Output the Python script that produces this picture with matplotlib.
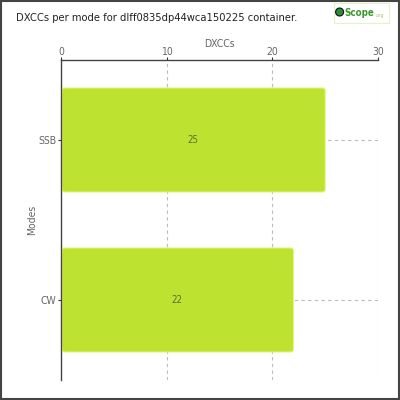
import matplotlib.pyplot as plt
from matplotlib.patches import FancyBboxPatch, Rectangle

modes = ['SSB', 'CW']
dxccs = [25, 22]
xticks = [0, 10, 20, 30]

plt.rcParams['font.family'] = ['DejaVu Sans']
plt.rcParams['font.stretch'] = 'condensed'

fig = plt.figure(figsize=(4, 4), dpi=100)
ax = fig.add_axes([0.1525, 0.05, 0.7925, 0.80])

pos = list(range(len(modes)))
bars = ax.barh(pos, dxccs, height=0.65, color='none')

# rounded bars on top of the barh geometry
x_per_px = 30 / 317
y_per_px = 2 / 320
for b in bars:
    x0, y0 = b.get_x(), b.get_y()
    w, h = b.get_width(), b.get_height()
    p = FancyBboxPatch((x0 + 0.1, y0), w - 0.1, h,
                       boxstyle='round,pad=0,rounding_size=0.25',
                       mutation_aspect=y_per_px / x_per_px,
                       facecolor='#bde22f', edgecolor='#e4f579', linewidth=0.8,
                       zorder=2)
    ax.add_patch(p)
    ax.text(x0 + w / 2, y0 + h / 2, str(int(w)), ha='center', va='center',
            fontsize=7, color='#5f6f3a', zorder=3)

ax.set_xlim(0, 30)
ax.set_ylim(1.5, -0.5)
ax.set_xticks(xticks)
ax.set_yticks(pos)
ax.set_yticklabels(modes)

ax.xaxis.tick_top()
ax.xaxis.set_label_position('top')
ax.set_xlabel('DXCCs', fontsize=7.5, color='#666666', labelpad=0)
ax.set_ylabel('Modes', fontsize=7.5, color='#666666', labelpad=1)
ax.tick_params(axis='both', labelsize=7.5, labelcolor='#666666', length=2.5,
               width=0.8, color='#333333', pad=1)
ax.tick_params(axis='x', length=2, pad=0.5)

ax.grid(True, linestyle=(0, (3, 3)), color='#bbbbbb', linewidth=0.8, zorder=0)
ax.set_axisbelow(True)
for s in ['right', 'bottom']:
    ax.spines[s].set_visible(False)
for s in ['top', 'left']:
    ax.spines[s].set_color('#444444')
    ax.spines[s].set_linewidth(1.0)

fig.text(0.04, 0.956, 'DXCCs per mode for dlff0835dp44wca150225 container.',
         fontsize=8, color='#222222', ha='left', va='center')

# logo
fig.patches.append(Rectangle((0.835, 0.943), 0.138, 0.05, transform=fig.transFigure,
                             facecolor='white', edgecolor='#e8f0c8', linewidth=0.8))
fig.patches.append(plt.Circle((0.849, 0.970), 0.010, transform=fig.transFigure,
                              facecolor='#2e8b3a', edgecolor='#111111', linewidth=0.8))
fig.text(0.861, 0.968, 'Scope', fontsize=7, fontweight='bold', color='#3a9a2a',
         ha='left', va='center')
fig.text(0.94, 0.962, '.org', fontsize=3.5, color='#9acb6a', ha='left', va='center')

# outer frame
fig.patches.append(Rectangle((0.002, 0.002), 0.995, 0.995, transform=fig.transFigure,
                             facecolor='none', edgecolor='#444444', linewidth=1.5))

fig.savefig('out.png', dpi=100)
